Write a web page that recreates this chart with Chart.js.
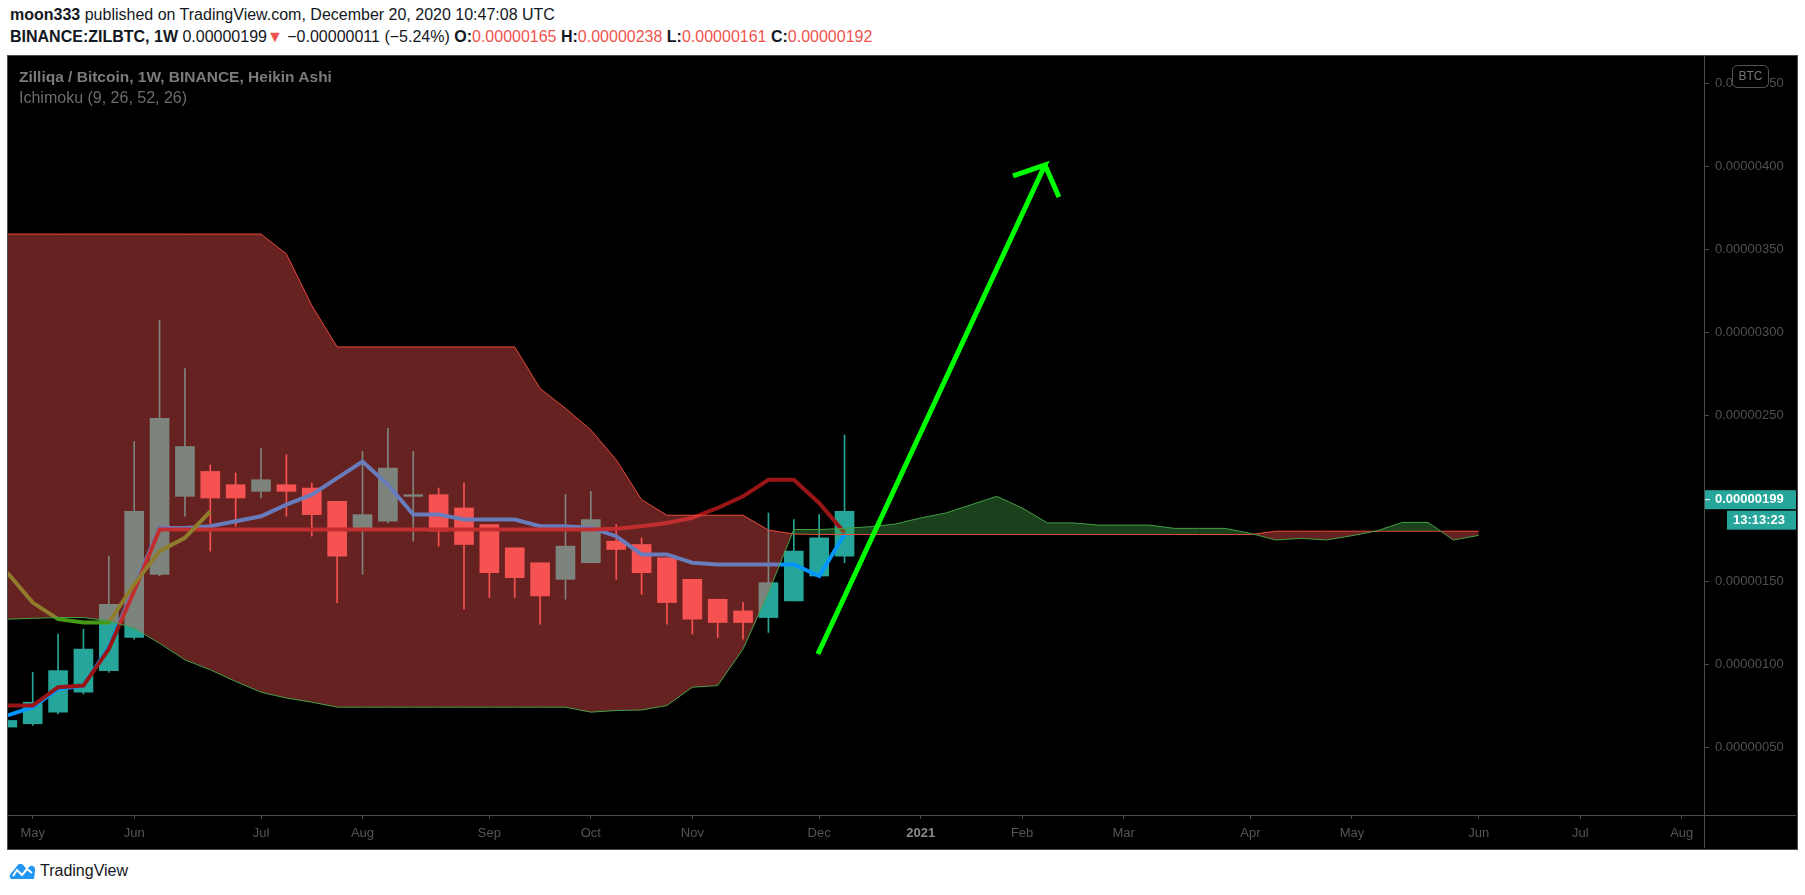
<!DOCTYPE html>
<html>
<head>
<meta charset="utf-8">
<title>ZILBTC 1W</title>
<script src="https://cdn.jsdelivr.net/npm/chart.js@4.4.1/dist/chart.umd.min.js"></script>
<style>
  html, body { margin: 0; padding: 0; background: #fff; }
  body { width: 1805px; height: 895px; position: relative; overflow: hidden;
         font-family: "Liberation Sans", Arial, sans-serif; color: #131722; }
  .hdr { position: absolute; left: 10px; font-size: 16px; white-space: nowrap; }
  .red { color: #ef5350; }
  #panel { position: absolute; left: 7px; top: 55px; width: 1789px; height: 793px;
           background: #000; border: 1px solid #4c4c4c; }
  #chart { position: absolute; left: 8px; top: 56px; }
  .ttl { position: absolute; left: 19px; white-space: nowrap; }
  #foot { position: absolute; left: 9px; top: 862px; display: flex; align-items: center; }
  #foot span { font-size: 16px; margin-left: 4px; color: #131722; }
</style>
</head>
<body>
<div class="hdr" style="top:6px"><b>moon333</b> published on TradingView.com, December 20, 2020 10:47:08 UTC</div>
<div class="hdr" style="top:28px"><b>BINANCE:ZILBTC, 1W</b> 0.00000199<span class="red">▼</span> −0.00000011 (−5.24%) <b>O:</b><span class="red">0.00000165</span> <b>H:</b><span class="red">0.00000238</span> <b>L:</b><span class="red">0.00000161</span> <b>C:</b><span class="red">0.00000192</span></div>
<div id="panel"></div>
<canvas id="chart" width="1788" height="792"></canvas>
<div class="ttl" style="top:68px;font-size:15.5px;color:#7b7b7b;font-weight:bold">Zilliqa / Bitcoin, 1W, BINANCE, Heikin Ashi</div>
<div class="ttl" style="top:89px;font-size:16px;color:#6c6c6c">Ichimoku (9, 26, 52, 26)</div>
<div id="foot">
  <svg width="27" height="18" viewBox="0 0 27 18">
    <path d="M1 16 C0 13 2 11 4 9 L8 4 C10 1 13 1 15 4 L18 8 L20 5 C23 2 27 5 26 9 L25 17 L2 17 Z" fill="#2196f3"/>
    <polyline points="4,14 8,8 13,13 18,7 23,11" fill="none" stroke="#fff" stroke-width="2"/>
  </svg>
  <span>TradingView</span>
</div>
<script>
// values in satoshi (1e-8 BTC); x = weekly bar index, 0 = week of May 4 2020
const firstBar = -1;
const haOpen  = [62, 64, 71, 83, 96, 116, 154, 201, 216, 208, 204, 208, 206, 198, 181, 186, 201, 202, 194, 184, 170, 161, 151, 161, 174, 172, 164, 151, 139, 132, 128, 138, 153, 165];
const haHigh  = [67, 95, 118, 121, 165, 234, 307, 278, 220, 215, 230, 226, 209, 198, 228, 242, 228, 206, 209, 184, 170, 161, 202, 204, 184, 176, 164, 151, 139, 137, 191, 187, 190, 238];
const haLow   = [61, 63, 70, 82, 95, 115, 153, 189, 168, 183, 200, 189, 177, 137, 154, 185, 174, 171, 133, 140, 140, 124, 139, 161, 151, 142, 124, 118, 116, 115, 119, 138, 153, 161];
const haClose = [66, 77, 96, 109, 136, 192, 248, 231, 200, 200, 211, 204, 190, 165, 190, 218, 202, 180, 172, 155, 152, 141, 171, 187, 169, 155, 137, 127, 125, 125, 149, 168, 176, 192];

const conversionLine = [69, 74, 85, 87, 110, 146, 182, 182, 183, 186, 189, 196, 202, 212, 222, 208, 190, 190, 187, 187, 187, 183, 183, 182, 177, 166, 166, 161, 160, 160, 160, 160, 153, 178];
const baseLine       = [75, 75, 86, 87, 109, 144, 181, 181, 181, 181, 181, 181, 181, 181, 181, 181, 181, 181, 181, 181, 181, 181, 181, 181, 181.5, 183, 185, 188, 194, 201, 211, 211, 197, 179];
const laggingSpan    = [155, 137, 127, 125, 125, 148, 168, 176, 192];

const spanA = [127, 127.5, 128, 128, 126, 121.5, 112.5, 102.5, 96.5, 89.5, 83, 79.5, 77, 74, 74, 74, 74, 74, 74, 74, 74, 74, 74,
  71, 72, 72.3, 75, 86, 87, 109, 143, 181, 181, 181.7, 182.7, 184.3, 188, 191, 196, 201, 194, 185, 185, 183.7, 183.7, 183.7,
  181.7, 181.7, 181.7, 178.7, 174.7, 175.7, 174.7, 177.3, 180.3, 185.3, 185.3, 174.7, 177.5];
const spanB = [359, 359, 359, 359, 359, 359, 359, 359, 359, 359, 359, 347, 316, 291, 291, 291, 291, 291, 291, 291, 291, 266,
  254, 241, 223, 199, 189.6, 189.6, 189.6, 189.6, 180.7, 178.3, 178, 178, 178, 178, 178, 178, 178, 178, 178, 178, 178, 178,
  178, 178, 178, 178, 178, 178, 180, 180, 180, 180, 180, 180, 180, 180, 180];

const monthTickIdx = [0, 4, 9, 13, 18, 22, 26, 31, 35, 39, 43, 48, 52, 57, 61, 65];
const monthTickLabels = ['May', 'Jun', 'Jul', 'Aug', 'Sep', 'Oct', 'Nov', 'Dec', '2021', 'Feb', 'Mar', 'Apr', 'May', 'Jun', 'Jul', 'Aug'];
const priceTicks = [50, 100, 150, 200, 250, 300, 350, 400, 450];

const lastPrice = 199;
const countdown = '13:13:23';

// hand drawn arrow (bar index, price)
const arrowX = [30.95, 39.9, 38.64, null, 39.9, 40.45];
const arrowY = [106, 400.6, 394, null, 400.6, 381.3];

const UP = '#26a69a';
const DOWN = '#ef5350';

function series(start, values) {
  return values.map((v, k) => ({ x: start + k, y: v }));
}

const candleColors = haOpen.map((o, k) => (haClose[k] >= o ? UP : DOWN));
const bodies = haOpen.map((o, k) => ({ x: firstBar + k, y: [o, haClose[k]] }));
const wicks = haLow.map((l, k) => ({ x: firstBar + k, y: [l, haHigh[k]] }));
const arrowPts = arrowX.map((x, k) => ({ x: x === null ? 40 : x, y: arrowY[k] }));

// price tag, countdown, BTC box, pane separators
const tvExtras = {
  id: 'tvExtras',
  afterDraw(chart) {
    const { ctx, chartArea: ca, width, height } = chart;
    ctx.save();
    ctx.strokeStyle = '#4c4c4c';
    ctx.lineWidth = 1;
    ctx.beginPath();
    ctx.moveTo(ca.right + 0.5, 0); ctx.lineTo(ca.right + 0.5, height);
    ctx.moveTo(0, ca.bottom + 0.5); ctx.lineTo(width, ca.bottom + 0.5);
    ctx.stroke();

    const y = chart.scales.y.getPixelForValue(lastPrice);
    ctx.fillStyle = UP;
    ctx.fillRect(ca.right + 1, y - 9.5, width - ca.right - 1, 19);
    ctx.fillRect(ca.right + 23, y + 11, width - ca.right - 23, 19);
    ctx.fillStyle = '#fff';
    ctx.fillRect(ca.right + 1, y - 0.5, 5, 1);
    ctx.font = 'bold 13px "Liberation Sans", Arial';
    ctx.textBaseline = 'middle';
    ctx.textAlign = 'left';
    ctx.fillText((lastPrice / 1e8).toFixed(8), ca.right + 11, y);
    ctx.textAlign = 'right';
    ctx.fillText(countdown, width - 11, y + 20.5);

    ctx.fillStyle = '#000';
    ctx.strokeStyle = '#555';
    ctx.beginPath();
    ctx.roundRect(1724.5, 9.5, 36, 22, 5);
    ctx.fill();
    ctx.stroke();
    ctx.fillStyle = '#777';
    ctx.font = '12px "Liberation Sans", Arial';
    ctx.textAlign = 'center';
    ctx.fillText('BTC', 1742.5, 21);
    ctx.restore();
  }
};

new Chart(document.getElementById('chart'), {
  type: 'bar',
  data: {
    datasets: [
      {
        type: 'line', label: 'arrow', order: 0,
        data: arrowPts, borderColor: '#00ff00', borderWidth: 5,
        pointRadius: 0, borderCapStyle: 'butt', borderJoinStyle: 'miter', spanGaps: false
      },
      {
        type: 'line', label: 'Lead 1', order: 1,
        data: series(firstBar, spanA), borderColor: '#43a047', borderWidth: 1, pointRadius: 0,
        fill: { target: 2, above: 'rgba(67,160,71,0.4)', below: 'rgba(255,82,82,0.4)' }
      },
      {
        type: 'line', label: 'Lead 2', order: 2,
        data: series(firstBar, spanB), borderColor: '#f44336', borderWidth: 1, pointRadius: 0
      },
      {
        type: 'line', label: 'Lagging Span', order: 3,
        data: series(firstBar, laggingSpan), borderColor: '#459915', borderWidth: 4, pointRadius: 0
      },
      {
        type: 'line', label: 'Base Line', order: 4,
        data: series(firstBar, baseLine), borderColor: '#991515', borderWidth: 4, pointRadius: 0
      },
      {
        type: 'line', label: 'Conversion Line', order: 5,
        data: series(firstBar, conversionLine), borderColor: '#0496ff', borderWidth: 4, pointRadius: 0
      },
      {
        label: 'bodies', order: 6, data: bodies, backgroundColor: candleColors,
        grouped: false, barThickness: 19, borderWidth: 0, minBarLength: 1
      },
      {
        label: 'wicks', order: 7, data: wicks, backgroundColor: candleColors,
        grouped: false, barThickness: 1, borderWidth: 0
      }
    ]
  },
  options: {
    responsive: false,
    animation: false,
    events: [],
    layout: { padding: 0 },
    plugins: { legend: { display: false }, tooltip: { enabled: false } },
    scales: {
      x: {
        type: 'linear', offset: false,
        min: -0.9736, max: 65.877,
        afterBuildTicks: (s) => { s.ticks = monthTickIdx.map((v) => ({ value: v })); },
        afterFit: (s) => { s.height = 33; s.paddingLeft = 0; s.paddingRight = 0; },
        border: { display: false },
        grid: { display: true, drawOnChartArea: false, drawTicks: true, tickLength: 4, color: '#4c4c4c', offset: false },
        ticks: {
          autoSkip: false, maxRotation: 0, padding: 7,
          callback: (v) => monthTickLabels[monthTickIdx.indexOf(v)],
          color: (c) => (c.tick && c.tick.value === 35 ? '#8a8a8a' : '#555'),
          font: (c) => ({ family: '"Liberation Sans", Arial', size: 13, weight: c.tick && c.tick.value === 35 ? 'bold' : 'normal' })
        }
      },
      y: {
        position: 'right',
        min: 9.04, max: 466.27,
        afterBuildTicks: (s) => { s.ticks = priceTicks.map((v) => ({ value: v })); },
        afterFit: (s) => { s.width = 92; s.paddingTop = 0; s.paddingBottom = 0; },
        border: { display: false },
        grid: { display: true, drawOnChartArea: false, drawTicks: true, tickLength: 5, color: '#4c4c4c' },
        ticks: {
          padding: 6, color: '#505050',
          font: { family: '"Liberation Sans", Arial', size: 13 },
          callback: (v) => (v / 1e8).toFixed(8)
        }
      }
    }
  },
  plugins: [tvExtras]
});
</script>
</body>
</html>
